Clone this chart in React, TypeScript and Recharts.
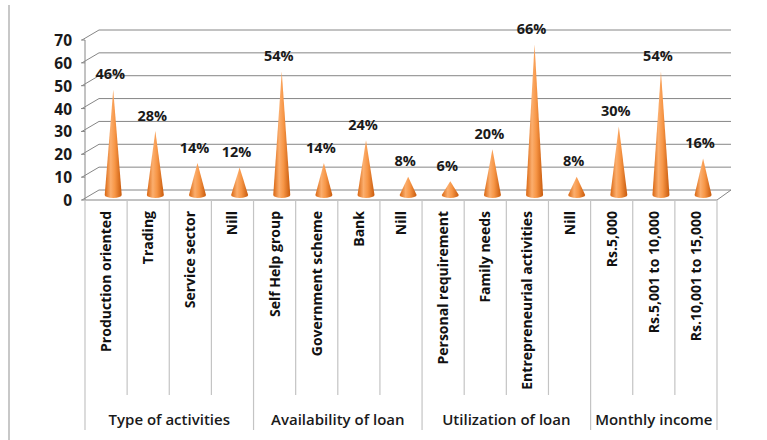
import { BarChart, Bar, XAxis, YAxis, CartesianGrid, LabelList } from "recharts"

const categories = [
  "Production oriented", "Trading", "Service sector", "Nill",
  "Self Help group", "Government scheme", "Bank", "Nill",
  "Personal requirement", "Family needs", "Entrepreneurial activities", "Nill",
  "Rs.5,000", "Rs.5,001 to 10,000", "Rs.10,001 to 15,000",
]
const values = [46, 28, 14, 12, 54, 14, 24, 8, 6, 20, 66, 8, 30, 54, 16]
const groups = ["Type of activities", "Availability of loan", "Utilization of loan", "Monthly income"]
const groupSizes = [4, 4, 4, 3]
const yTicks = [0, 10, 20, 30, 40, 50, 60, 70]

const data = categories.map((name, i) => ({ name, value: values[i] }))

const W = 767
const H = 440
const LEFT = 85
const RIGHT = 717
const BAND = (RIGHT - LEFT) / categories.length
// 3d depth offsets
const DX = 14
const DY = -10
const FONT = "'Open Sans', 'Liberation Sans', Arial, sans-serif"
const GRID = "#868686"
const DIV = "#c4c4c4"

// group start index for each category
const groupStarts: number[] = []
groupSizes.reduce((acc, n) => { groupStarts.push(acc); return acc + n }, 0)

const GridLine = (props: any) => {
  const { x1, x2, y1, index } = props
  const isFloor = Math.abs(y1 - 200) < 2
  return (
    <g key={`g-${index}-${y1}`}>
      <polyline
        points={`${x1 - 3},${y1} ${x1 + DX},${y1 + DY} ${x2 + DX},${y1 + DY}`}
        fill="none" stroke={GRID} strokeWidth={1}
      />
      {isFloor && (
        <polyline
          points={`${x1},${y1} ${x2},${y1} ${x2 + DX},${y1 + DY}`}
          fill="none" stroke={GRID} strokeWidth={1}
        />
      )}
    </g>
  )
}

const YTick = ({ x, y, payload }: any) => (
  <text x={x} y={y} textAnchor="end" dominantBaseline="central"
    fontFamily={FONT} fontWeight="bold" fontSize={15.5} fill="#1a1a1a">
    {payload.value}
  </text>
)

const CategoryTick = ({ x, y, payload, index }: any) => {
  const left = x - BAND / 2
  const gi = groupStarts.indexOf(index)
  const isLast = index === categories.length - 1
  return (
    <g>
      <line x1={left} y1={200} x2={left} y2={gi >= 0 ? 430 : 395} stroke={DIV} strokeWidth={1.2} />
      {isLast && <line x1={left + BAND} y1={200} x2={left + BAND} y2={430} stroke={DIV} strokeWidth={1.2} />}
      <text transform={`translate(${x + 5},${211}) rotate(-90)`} textAnchor="end"
        fontFamily={FONT} fontWeight="bold" fontSize={14} fill="#111">
        {payload.value}
      </text>
      {gi >= 0 && (
        <text x={left + (groupSizes[gi] * BAND) / 2} y={419} textAnchor="middle" dominantBaseline="central"
          fontFamily={FONT} fontWeight={600} fontSize={15} fill="#1a1a1a">
          {groups[gi]}
        </text>
      )}
    </g>
  )
}

const Cone = ({ x, y, width, height }: any) => {
  const cx = x + width / 2 + 7
  const base = y + height - 5
  const tip = y - 5
  const r = 8.5
  return (
    <path
      d={`M${cx - r},${base} L${cx},${tip} L${cx + r},${base} A${r} 3 0 0 1 ${cx - r},${base} Z`}
      fill="url(#coneFill)"
    />
  )
}

const ConeLabel = ({ x, y, width, value }: any) => (
  <text x={x + width / 2 + 4} y={y - 21} textAnchor="middle" dominantBaseline="central"
    fontFamily={FONT} fontWeight="bold" fontSize={14.5} fill="#1a1a1a">
    {value}%
  </text>
)

export default function App() {
  return (
    <div style={{ position: "absolute", left: 0, top: 0, width: W, height: H, background: "#fff" }}>
      <div style={{ position: "absolute", left: 8, top: 5, width: 2, height: H - 5, background: "#c8c8c8" }} />
      <BarChart width={W} height={H} data={data}
        margin={{ top: 40, right: W - RIGHT, left: LEFT - 40, bottom: 0 }}>
        <defs>
          <linearGradient id="coneFill" x1="0" y1="0" x2="1" y2="0">
            <stop offset="0%" stopColor="#d9650f" />
            <stop offset="35%" stopColor="#fbae6e" />
            <stop offset="60%" stopColor="#f79646" />
            <stop offset="100%" stopColor="#c85a0c" />
          </linearGradient>
        </defs>
        <CartesianGrid vertical={false} horizontal={GridLine} />
        <YAxis width={40} domain={[0, 70]} ticks={yTicks} interval={0}
          axisLine={{ stroke: GRID }} tickLine={{ stroke: GRID }} tickSize={4} tickMargin={9}
          tick={<YTick />} />
        <XAxis dataKey="name" interval={0} height={240} axisLine={false} tickLine={false}
          tick={<CategoryTick />} />
        <Bar dataKey="value" shape={<Cone />} isAnimationActive={false}>
          <LabelList dataKey="value" content={<ConeLabel />} />
        </Bar>
      </BarChart>
    </div>
  )
}
